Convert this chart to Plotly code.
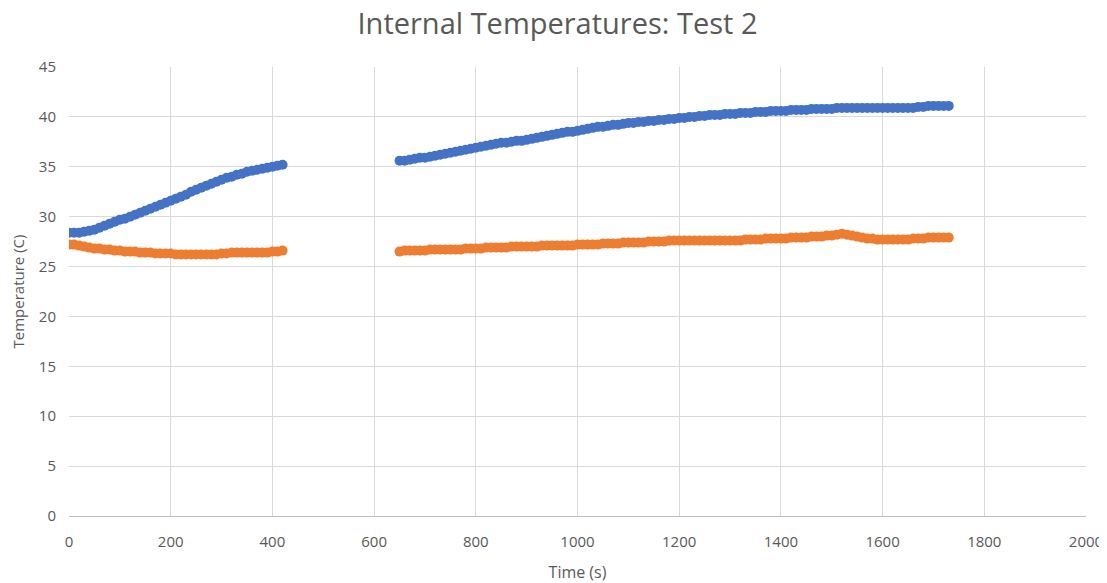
import plotly.graph_objects as go

time_s = [0, 10, 20, 30, 40, 50, 60, 70, 80, 90, 100, 110, 120, 130, 140, 150, 160, 170, 180, 190,
          200, 210, 220, 230, 240, 250, 260, 270, 280, 290, 300, 310, 320, 330, 340, 350, 360, 370,
          380, 390, 400, 410, 420,
          650, 660, 670, 680, 690, 700, 710, 720, 730, 740, 750, 760, 770, 780, 790, 800, 810, 820,
          830, 840, 850, 860, 870, 880, 890, 900, 910, 920, 930, 940, 950, 960, 970, 980, 990, 1000,
          1010, 1020, 1030, 1040, 1050, 1060, 1070, 1080, 1090, 1100, 1110, 1120, 1130, 1140, 1150,
          1160, 1170, 1180, 1190, 1200, 1210, 1220, 1230, 1240, 1250, 1260, 1270, 1280, 1290, 1300,
          1310, 1320, 1330, 1340, 1350, 1360, 1370, 1380, 1390, 1400, 1410, 1420, 1430, 1440, 1450,
          1460, 1470, 1480, 1490, 1500, 1510, 1520, 1530, 1540, 1550, 1560, 1570, 1580, 1590, 1600,
          1610, 1620, 1630, 1640, 1650, 1660, 1670, 1680, 1690, 1700, 1710, 1720, 1730]

temp_blue = [28.4, 28.4, 28.4, 28.5, 28.6, 28.7, 28.9, 29.1, 29.3, 29.5, 29.7, 29.8, 30.0, 30.2,
             30.4, 30.6, 30.8, 31.0, 31.2, 31.4, 31.6, 31.8, 32.0, 32.2, 32.5, 32.7, 32.9, 33.1,
             33.3, 33.5, 33.7, 33.9, 34.0, 34.2, 34.3, 34.5, 34.6, 34.7, 34.8, 34.9, 35.0, 35.1, 35.2,
             35.6, 35.6, 35.7, 35.8, 35.9, 35.9, 36.0, 36.1, 36.2, 36.3, 36.4, 36.5, 36.6, 36.7,
             36.8, 36.9, 37.0, 37.1, 37.2, 37.3, 37.4, 37.4, 37.5, 37.6, 37.6, 37.7, 37.8, 37.9,
             38.0, 38.1, 38.2, 38.3, 38.4, 38.5, 38.5, 38.6, 38.7, 38.8, 38.9, 39.0, 39.0, 39.1,
             39.2, 39.2, 39.3, 39.4, 39.4, 39.5, 39.5, 39.6, 39.6, 39.7, 39.7, 39.8, 39.8, 39.9,
             39.9, 40.0, 40.0, 40.1, 40.1, 40.2, 40.2, 40.2, 40.3, 40.3, 40.3, 40.4, 40.4, 40.4,
             40.5, 40.5, 40.5, 40.6, 40.6, 40.6, 40.6, 40.7, 40.7, 40.7, 40.7, 40.8, 40.8, 40.8,
             40.8, 40.8, 40.9, 40.9, 40.9, 40.9, 40.9, 40.9, 40.9, 40.9, 40.9, 40.9, 40.9, 40.9,
             40.9, 40.9, 40.9, 40.9, 41.0, 41.0, 41.1, 41.1, 41.1, 41.1, 41.1]

temp_orange = [27.2, 27.2, 27.1, 27.0, 26.9, 26.8, 26.8, 26.7, 26.7, 26.6, 26.6, 26.5, 26.5, 26.5,
               26.4, 26.4, 26.4, 26.3, 26.3, 26.3, 26.3, 26.2, 26.2, 26.2, 26.2, 26.2, 26.2, 26.2,
               26.2, 26.2, 26.3, 26.3, 26.4, 26.4, 26.4, 26.4, 26.4, 26.4, 26.4, 26.4, 26.5, 26.5, 26.6,
               26.5, 26.6, 26.6, 26.6, 26.6, 26.6, 26.7, 26.7, 26.7, 26.7, 26.7, 26.7, 26.7, 26.8,
               26.8, 26.8, 26.8, 26.9, 26.9, 26.9, 26.9, 26.9, 27.0, 27.0, 27.0, 27.0, 27.0, 27.0,
               27.1, 27.1, 27.1, 27.1, 27.1, 27.1, 27.1, 27.2, 27.2, 27.2, 27.2, 27.2, 27.3, 27.3,
               27.3, 27.3, 27.4, 27.4, 27.4, 27.4, 27.4, 27.5, 27.5, 27.5, 27.5, 27.6, 27.6, 27.6,
               27.6, 27.6, 27.6, 27.6, 27.6, 27.6, 27.6, 27.6, 27.6, 27.6, 27.6, 27.6, 27.7, 27.7,
               27.7, 27.7, 27.8, 27.8, 27.8, 27.8, 27.8, 27.9, 27.9, 27.9, 27.9, 28.0, 28.0, 28.0,
               28.1, 28.1, 28.2, 28.3, 28.2, 28.1, 28.0, 27.9, 27.8, 27.8, 27.7, 27.7, 27.7, 27.7,
               27.7, 27.7, 27.7, 27.8, 27.8, 27.8, 27.9, 27.9, 27.9, 27.9, 27.9]

x_ticks = [0, 200, 400, 600, 800, 1000, 1200, 1400, 1600, 1800, 2000]
y_ticks = [0, 5, 10, 15, 20, 25, 30, 35, 40, 45]

assert len(time_s) == len(temp_blue) == len(temp_orange)

FONT = "Open Sans"
GRAY = "#595959"

fig = go.Figure()
fig.add_trace(go.Scatter(x=time_s, y=temp_blue, mode="markers",
                         marker=dict(color="#4472C4", size=10, line=dict(width=0)),
                         name="Series1"))
fig.add_trace(go.Scatter(x=time_s, y=temp_orange, mode="markers",
                         marker=dict(color="#ED7D31", size=10, line=dict(width=0)),
                         name="Series2"))

# The page body adds an 8px offset, so the figure is 8px smaller and margins shifted.
fig.update_layout(
    width=1099, height=575,
    margin=dict(l=61, r=21, t=59, b=67, autoexpand=False),
    paper_bgcolor="white", plot_bgcolor="white",
    showlegend=False,
    title=dict(text="Internal Temperatures: Test 2", x=0.5, xanchor="center",
               y=1 - 16 / 575, yanchor="middle",
               font=dict(family=FONT, size=29, color=GRAY)),
    font=dict(family=FONT, color=GRAY),
)
fig.update_xaxes(range=[0, 2000], tickvals=x_ticks, ticktext=[str(v) for v in x_ticks],
                 automargin=False,
                 showgrid=True, gridcolor="#D9D9D9", gridwidth=1,
                 showline=True, linecolor="#BFBFBF", linewidth=1, zeroline=False,
                 ticks="", ticklabelstandoff=12, tickfont=dict(size=15, color=GRAY),
                 title=dict(text="Time (s)", font=dict(size=16, color=GRAY), standoff=22))
fig.update_yaxes(range=[0, 45], tickvals=y_ticks, ticktext=[str(v) for v in y_ticks],
                 automargin=False,
                 showgrid=True, gridcolor="#D9D9D9", gridwidth=1,
                 showline=False, zeroline=False,
                 ticks="", ticklabelstandoff=12, tickfont=dict(size=15, color=GRAY),
                 title=dict(text="Temperature (C)", font=dict(size=15, color=GRAY), standoff=12))

fig.write_html("out.html")
